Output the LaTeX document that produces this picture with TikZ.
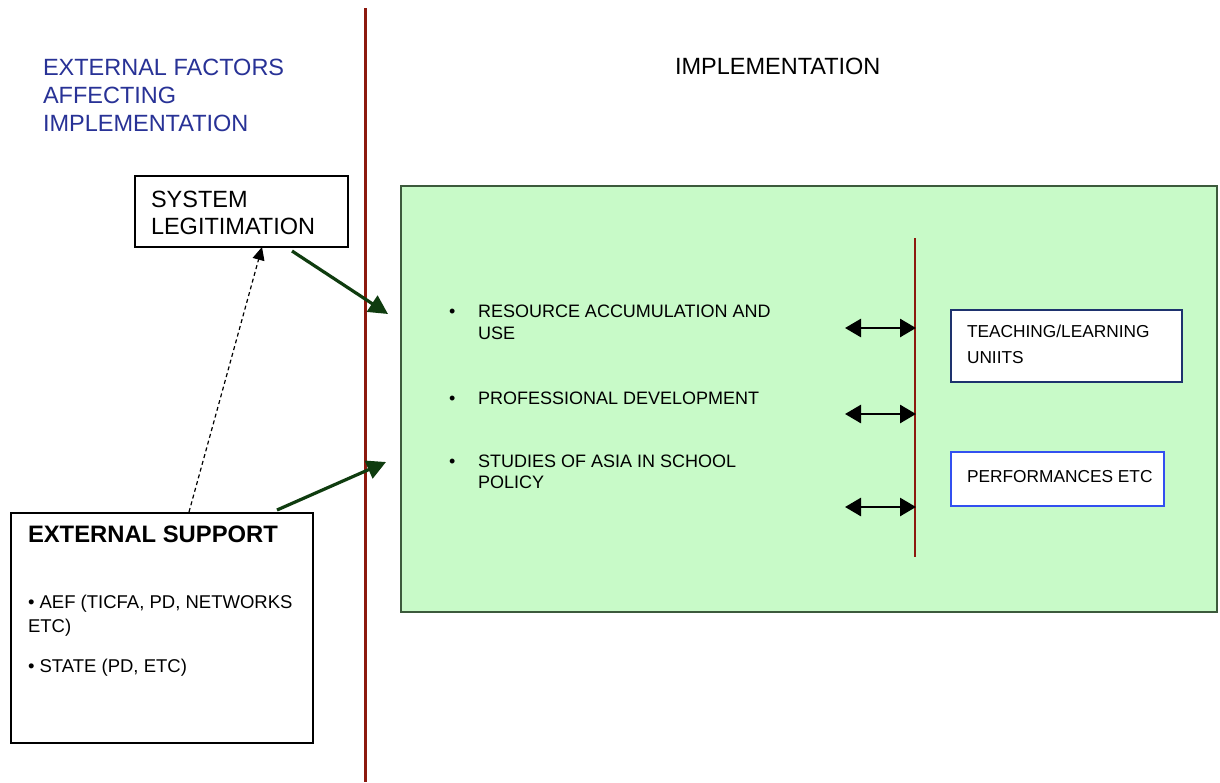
\documentclass[tikz,border=0pt]{standalone}
\usepackage{fontspec}
\setmainfont{Liberation Sans}
\usetikzlibrary{arrows.meta}
\definecolor{redline}{RGB}{140,25,15}
\definecolor{greenfill}{RGB}{200,250,200}
\definecolor{greenborder}{RGB}{60,90,60}
\definecolor{arrowgreen}{RGB}{15,60,15}
\definecolor{headblue}{RGB}{40,50,150}
\definecolor{boxblueA}{RGB}{30,50,110}
\definecolor{boxblueB}{RGB}{50,80,240}
\tikzset{
  txt/.style={anchor=base west, inner sep=0pt, outer sep=0pt},
  bigtxt/.style={txt, font=\fontsize{23.5}{28}\selectfont},
  midtxt/.style={txt, font=\fontsize{18.5}{22}\selectfont},
  smalltxt/.style={txt, font=\fontsize{18}{22}\selectfont},
  unittxt/.style={txt, font=\fontsize{17.3}{21}\selectfont},
  frame/.style={draw, anchor=north west, inner sep=0pt, outer sep=0pt},
  sep/.style={draw=redline, line width=3pt},
  greenarrow/.style={draw=arrowgreen, line width=3.2pt, -{Triangle[length=19pt,width=19pt]}},
  duoarrow/.style={draw=black, line width=2.8pt, {Triangle[length=16pt,width=18pt]}-{Triangle[length=16pt,width=18pt]}},
  dasharrow/.style={draw=black, line width=1.2pt, dash pattern=on 4pt off 3pt, -{Triangle[length=13pt,width=12pt]}}
}
\begin{document}
\begin{tikzpicture}[x=1pt,y=-1pt]
\useasboundingbox[fill=white] (0,0) rectangle (1220,782);

% main separator
\coordinate (septop) at (365,8);
\coordinate (sepbot) at (365,782);
\draw[sep] (septop) -- (sepbot);

% headings
\node[bigtxt, text=headblue] (h1) at (43,75) {EXTERNAL FACTORS};
\node[bigtxt, text=headblue] (h2) at (43,103) {AFFECTING};
\node[bigtxt, text=headblue] (h3) at (43,131) {IMPLEMENTATION};
\node[bigtxt] (himpl) at (675,74) {IMPLEMENTATION};

% system legitimation
\node[frame, line width=1.5pt, minimum width=213pt, minimum height=71pt] (sys) at (135,176) {};
\node[bigtxt] (sys1) at (151,207) {SYSTEM};
\node[bigtxt] (sys2) at (151,234) {LEGITIMATION};

% external support
\node[frame, line width=1.5pt, minimum width=302pt, minimum height=230pt] (ext) at (11,513) {};
\node[txt, font=\fontsize{23.8}{28}\selectfont\bfseries] (ext1) at (28,542) {EXTERNAL SUPPORT};
\node[midtxt] (ext2) at (28,608) {• AEF (TICFA, PD, NETWORKS};
\node[midtxt] (ext3) at (28,632) {ETC)};
\node[midtxt] (ext4) at (28,672) {• STATE (PD, ETC)};

% green implementation box
\node[frame, draw=greenborder, fill=greenfill, line width=1.5pt, minimum width=816pt, minimum height=426pt] (impl) at (401,186) {};

\node[smalltxt] (b1) at (449,317) {•};
\node[smalltxt] (r1) at (478,317) {RESOURCE ACCUMULATION AND};
\node[smalltxt] (r2) at (478,339) {USE};
\node[smalltxt] (b2) at (449,404) {•};
\node[smalltxt] (p1) at (478,404) {PROFESSIONAL DEVELOPMENT};
\node[smalltxt] (b3) at (449,467) {•};
\node[smalltxt] (s1) at (478,467) {STUDIES OF ASIA IN SCHOOL};
\node[smalltxt] (s2) at (478,488) {POLICY};

% inner separator
\coordinate (intop) at (915,238);
\coordinate (inbot) at (915,557);
\draw[sep, line width=2.6pt] (intop) -- (inbot);

% double arrows
\coordinate (da1) at (845,328); \coordinate (db1) at (916,328);
\coordinate (da2) at (845,414); \coordinate (db2) at (916,414);
\coordinate (da3) at (845,507); \coordinate (db3) at (916,507);
\draw[duoarrow] (da1) -- (db1);
\draw[duoarrow] (da2) -- (db2);
\draw[duoarrow] (da3) -- (db3);

% outcome boxes
\node[frame, draw=boxblueA, fill=white, line width=1.5pt, minimum width=231pt, minimum height=72pt] (tl) at (951,310) {};
\node[unittxt] (tl1) at (967,337) {TEACHING/LEARNING};
\node[unittxt] (tl2) at (967,363) {UNIITS};
\node[frame, draw=boxblueB, fill=white, line width=1.5pt, minimum width=213pt, minimum height=54pt] (pf) at (951,452) {};
\node[unittxt] (pf1) at (967,482) {PERFORMANCES ETC};

% connectors
\coordinate (g1s) at (292,251);
\coordinate (g1e) at (388,314);
\draw[greenarrow] (g1s) -- (g1e);
\coordinate (g2s) at (277,510);
\coordinate (g2e) at (386,462);
\draw[greenarrow] (g2s) -- (g2e);
\coordinate (ds) at (189,512);
\coordinate (de) at (262,247);
\draw[dasharrow] (ds) -- (de);
\end{tikzpicture}
\end{document}
